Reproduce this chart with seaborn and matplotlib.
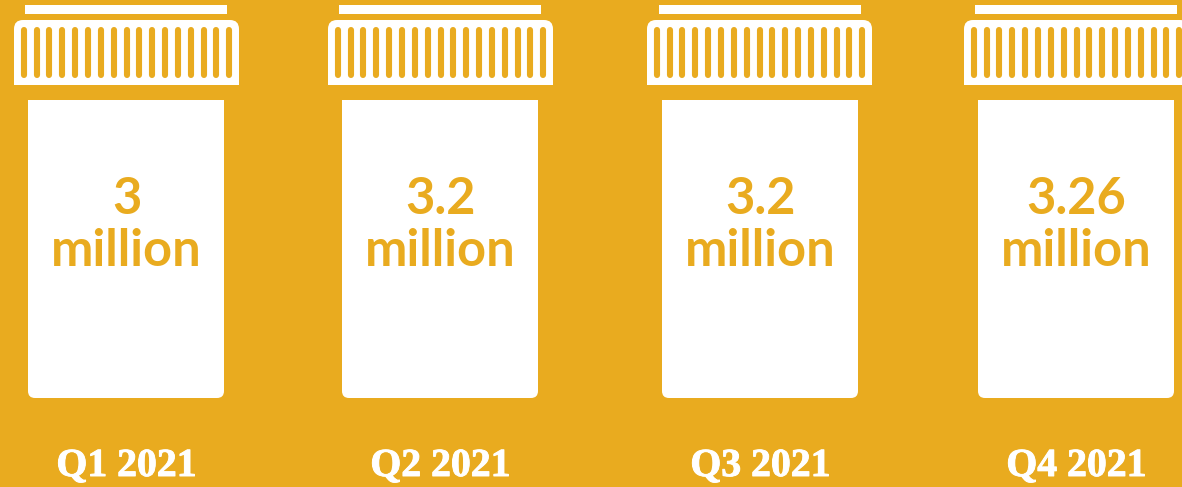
import matplotlib
matplotlib.use("Agg")
import matplotlib.pyplot as plt
import matplotlib.patheffects as pe
from matplotlib.patches import FancyBboxPatch
import numpy as np
import seaborn as sns

# Quarterly figures shown on each bottle
quarters = ["Q1 2021", "Q2 2021", "Q3 2021", "Q4 2021"]
values_million = [3, 3.2, 3.2, 3.26]
unit_label = "million"

GOLD = "#E9AB1F"
WHITE = "#FFFFFF"

sns.set_style("white")

# Canvas uses a pixel-like coordinate system, y growing downwards
centers = [126, 440, 760, 1076]
cap_centers = [126.5, 440.5, 759.5, 1076.5]
fig = plt.figure(figsize=(11.82, 4.87), dpi=100, facecolor=GOLD)
ax = fig.add_axes([0, 0, 1, 1], facecolor=GOLD)


def strip(xs, top, bottom, width):
    # One white band per bottle, drawn as a seaborn bar on the native x scale
    gap = min(np.diff(xs))
    sns.barplot(x=xs, y=[bottom - top] * len(xs), bottom=top,
                native_scale=True, width=width / gap, color=WHITE,
                saturation=1, linewidth=0, ax=ax)


strip(centers, 5, 14, 202)          # lid band
strip(centers, 100, 388, 196)       # bottle body
strip(cap_centers, 50, 85, 225)     # lower part of the cap

for cx, capx in zip(centers, cap_centers):
    # rounded base of the body
    r = 7
    ax.add_patch(FancyBboxPatch((cx - 98 + r, 380 + r), 196 - 2 * r, 18 - 2 * r,
                                boxstyle=f"round,pad={r},rounding_size={r}",
                                fc=WHITE, ec="none"))
    # rounded top of the cap
    r = 9
    ax.add_patch(FancyBboxPatch((capx - 112.5 + r, 20 + r), 225 - 2 * r, 40 - 2 * r,
                                boxstyle=f"round,pad={r},rounding_size={r}",
                                fc=WHITE, ec="none"))
    # ridges on the cap
    for k in range(17):
        xs = capx + (k - 8) * 12.84
        ax.plot([xs, xs], [30.3, 75], color=GOLD, lw=4.4,
                solid_capstyle="round", zorder=4)

for cx, value, quarter in zip(centers, values_million, quarters):
    ax.text(cx + 0.5, 199, f"{value:g}", ha="center", va="center", color=GOLD,
            family="Lato", fontweight="bold", fontsize=36.4, zorder=5)
    ax.text(cx + 0.5, 251, unit_label, ha="center", va="center", color=GOLD,
            family="Lato", fontweight="bold", fontsize=36.4, zorder=5)
    label = ax.text(cx + 0.5, 466.5, quarter, ha="center", va="center", color=WHITE,
                    family="Liberation Serif", fontweight="bold", fontsize=28.6, zorder=5)
    label.set_path_effects([pe.withStroke(linewidth=0.7, foreground=WHITE)])

ax.set_xlim(0, 1182)
ax.set_ylim(487, 0)
ax.axis("off")

fig.savefig("out.png", dpi=100, facecolor=GOLD)
